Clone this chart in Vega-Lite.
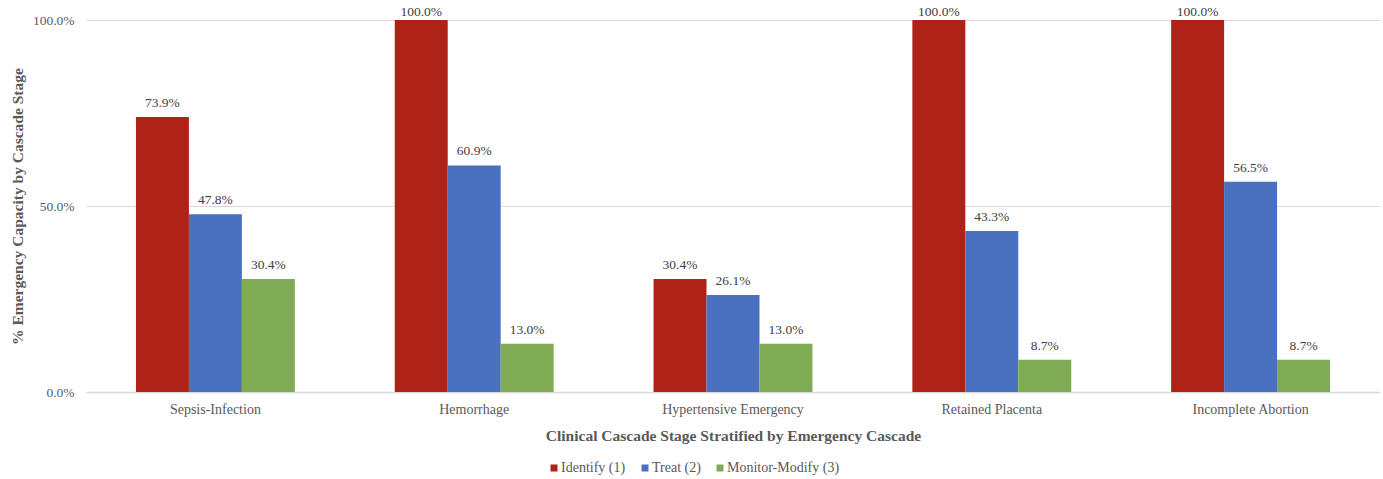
{
  "$schema": "https://vega.github.io/schema/vega-lite/v6.json",
  "width": 1294,
  "height": 372,
  "autosize": {"type": "none"},
  "padding": {"left": 86, "top": 20, "right": 3, "bottom": 87},
  "config": {
    "font": "Times New Roman, Liberation Serif, DejaVu Serif, serif",
    "view": {"stroke": null},
    "axis": {"labelFont": "Times New Roman, Liberation Serif, serif", "titleFont": "Times New Roman, Liberation Serif, serif"},
    "legend": {"labelFont": "Times New Roman, Liberation Serif, serif"},
    "text": {"font": "Times New Roman, Liberation Serif, serif"}
  },
  "data": {
    "values": [
      {"cascade": "Sepsis-Infection", "stage": "Identify (1)", "value": 0.739},
      {"cascade": "Sepsis-Infection", "stage": "Treat (2)", "value": 0.478},
      {"cascade": "Sepsis-Infection", "stage": "Monitor-Modify (3)", "value": 0.304},
      {"cascade": "Hemorrhage", "stage": "Identify (1)", "value": 1.0},
      {"cascade": "Hemorrhage", "stage": "Treat (2)", "value": 0.609},
      {"cascade": "Hemorrhage", "stage": "Monitor-Modify (3)", "value": 0.13},
      {"cascade": "Hypertensive Emergency", "stage": "Identify (1)", "value": 0.304},
      {"cascade": "Hypertensive Emergency", "stage": "Treat (2)", "value": 0.261},
      {"cascade": "Hypertensive Emergency", "stage": "Monitor-Modify (3)", "value": 0.13},
      {"cascade": "Retained Placenta", "stage": "Identify (1)", "value": 1.0},
      {"cascade": "Retained Placenta", "stage": "Treat (2)", "value": 0.433},
      {"cascade": "Retained Placenta", "stage": "Monitor-Modify (3)", "value": 0.087},
      {"cascade": "Incomplete Abortion", "stage": "Identify (1)", "value": 1.0},
      {"cascade": "Incomplete Abortion", "stage": "Treat (2)", "value": 0.565},
      {"cascade": "Incomplete Abortion", "stage": "Monitor-Modify (3)", "value": 0.087}
    ]
  },
  "encoding": {
    "x": {
      "field": "cascade",
      "type": "nominal",
      "sort": ["Sepsis-Infection", "Hemorrhage", "Hypertensive Emergency", "Retained Placenta", "Incomplete Abortion"],
      "scale": {"paddingInner": 0.386, "paddingOuter": 0.193},
      "title": "Clinical Cascade Stage Stratified by Emergency Cascade",
      "axis": {
        "labelAngle": 0,
        "labelFontSize": 14,
        "labelColor": "#595959",
        "labelPadding": 10,
        "ticks": false,
        "domain": true,
        "domainColor": "#d9d9d9",
        "domainWidth": 1.5,
        "titleFontSize": 15.5,
        "titleFontWeight": "bold",
        "titleColor": "#595959",
        "titlePadding": 12
      }
    },
    "xOffset": {
      "field": "stage",
      "type": "nominal",
      "sort": ["Identify (1)", "Treat (2)", "Monitor-Modify (3)"],
      "scale": {"paddingInner": 0, "paddingOuter": 0}
    },
    "y": {
      "field": "value",
      "type": "quantitative",
      "scale": {"domain": [0, 1]},
      "title": "% Emergency Capacity by Cascade Stage",
      "axis": {
        "values": [0, 0.5, 1],
        "format": ".1%",
        "labelFontSize": 13.5,
        "labelColor": "#595959",
        "labelPadding": 12,
        "ticks": false,
        "domain": false,
        "gridColor": "#d9d9d9",
        "gridWidth": 1.2,
        "titleFontSize": 15.5,
        "titleFontWeight": "bold",
        "titleColor": "#595959",
        "titlePadding": 7
      }
    }
  },
  "layer": [
    {
      "mark": {"type": "bar"},
      "encoding": {
        "color": {
          "field": "stage",
          "type": "nominal",
          "sort": ["Identify (1)", "Treat (2)", "Monitor-Modify (3)"],
          "scale": {
            "domain": ["Identify (1)", "Treat (2)", "Monitor-Modify (3)"],
            "range": ["#AF2217", "#4A71BF", "#7FAB55"]
          },
          "legend": {
            "title": null,
            "orient": "none",
            "direction": "horizontal",
            "legendX": 461,
            "legendY": 441,
            "symbolType": "square",
            "symbolSize": 49,
            "symbolStrokeWidth": 0,
            "labelFontSize": 14,
            "labelColor": "#595959",
            "labelOffset": 0,
            "columnPadding": 12
          }
        }
      }
    },
    {
      "transform": [{"filter": "datum.value < 1"}],
      "mark": {"type": "text", "dy": -7, "fontSize": 13.5, "color": "#404040", "baseline": "bottom"},
      "encoding": {
        "text": {"field": "value", "type": "quantitative", "format": ".1%"}
      }
    },
    {
      "transform": [{"filter": "datum.value >= 1"}],
      "mark": {"type": "text", "dy": -1, "fontSize": 13.5, "color": "#404040", "baseline": "bottom"},
      "encoding": {
        "text": {"field": "value", "type": "quantitative", "format": ".1%"}
      }
    }
  ]
}
